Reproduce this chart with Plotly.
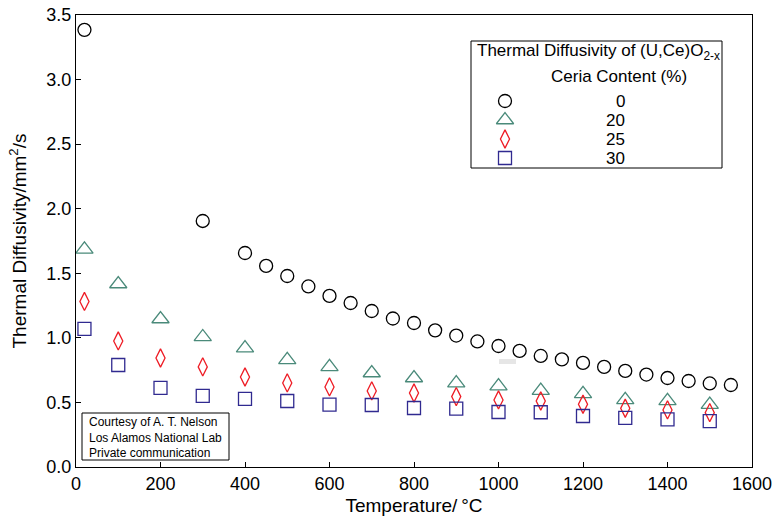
import plotly.graph_objects as go

# ---- data ----
temp_0 = [20, 300, 400, 450, 500, 550, 600, 650, 700, 750, 800, 850, 900, 950, 1000,
          1050, 1100, 1150, 1200, 1250, 1300, 1350, 1400, 1450, 1500, 1550]
diff_0 = [3.385, 1.905, 1.657, 1.557, 1.479, 1.398, 1.325, 1.27, 1.208, 1.15, 1.115,
          1.058, 1.018, 0.972, 0.937, 0.899, 0.86, 0.833, 0.806, 0.775, 0.744, 0.716,
          0.689, 0.666, 0.647, 0.635]
temp_x = [20, 100, 200, 300, 400, 500, 600, 700, 800, 900, 1000, 1100, 1200, 1300, 1400, 1500]
diff_20 = [1.685, 1.417, 1.146, 1.007, 0.92, 0.829, 0.775, 0.728, 0.689, 0.649, 0.627,
           0.591, 0.566, 0.52, 0.512, 0.483]
diff_25 = [1.282, 0.976, 0.844, 0.775, 0.697, 0.651, 0.62, 0.589, 0.573, 0.545, 0.519,
           0.511, 0.486, 0.455, 0.442, 0.421]
diff_30 = [1.069, 0.79, 0.612, 0.55, 0.527, 0.511, 0.483, 0.48, 0.457, 0.452, 0.426,
           0.424, 0.395, 0.38, 0.369, 0.356]
series_names = ["0", "20", "25", "30"]

FONT = "Liberation Sans, Arial, sans-serif"
W, H = 784, 520
L, R, T, B = 76, 32, 15, 53

styles = [
    dict(symbol="circle-open", size=13, color="#000000"),
    dict(symbol="triangle-up-open", size=15, color="#4a8a7a"),
    dict(symbol="diamond-tall-open", size=13, color="#ee1c25"),
    dict(symbol="square-open", size=13, color="#302a90"),
]
xs = [temp_0, temp_x, temp_x, temp_x]
ys = [diff_0, diff_20, diff_25, diff_30]

fig = go.Figure()
for x, y, st, nm in zip(xs, ys, styles, series_names):
    fig.add_trace(go.Scatter(
        x=x, y=y, mode="markers", name=nm, showlegend=False,
        marker=dict(symbol=st["symbol"], size=st["size"], color=st["color"],
                    line=dict(color=st["color"], width=1.3)),
    ))

# custom legend (pixel-coordinate overlay axes)
leg_y = [101, 120, 139, 158]
for st, nm, ly in zip(styles, series_names, leg_y):
    fig.add_trace(go.Scatter(
        x=[505], y=[ly], xaxis="x2", yaxis="y2", mode="markers", showlegend=False,
        hoverinfo="skip",
        marker=dict(symbol=st["symbol"], size=st["size"], color=st["color"],
                    line=dict(color=st["color"], width=1.3)),
    ))

annotations = []
for nm, ly in zip(series_names, leg_y):
    annotations.append(dict(x=627, y=ly, xref="x2", yref="y2", text=nm, showarrow=False,
                            xanchor="right", yanchor="middle",
                            font=dict(family=FONT, size=17, color="#000")))
annotations.append(dict(x=475, y=52, xref="x2", yref="y2",
                        text="Thermal Diffusivity of (U,Ce)O<sub>2-x</sub>", showarrow=False,
                        xanchor="left", yanchor="middle",
                        font=dict(family=FONT, size=17, color="#000")))
annotations.append(dict(x=619, y=76, xref="x2", yref="y2", text="Ceria Content (%)",
                        showarrow=False, xanchor="center", yanchor="middle",
                        font=dict(family=FONT, size=17, color="#000")))
annotations.append(dict(x=87, y=437, xref="x2", yref="y2",
                        text="Courtesy of A. T. Nelson<br>Los Alamos National Lab<br>Private communication",
                        showarrow=False, xanchor="left", yanchor="middle", align="left",
                        font=dict(family=FONT, size=12, color="#000")))

shapes = [
    dict(type="rect", xref="x2", yref="y2", x0=471, x1=722, y0=41, y1=168,
         line=dict(color="#000", width=1), fillcolor="rgba(0,0,0,0)"),
    dict(type="rect", xref="x2", yref="y2", x0=82, x1=229, y0=413, y1=460,
         line=dict(color="#000", width=1), fillcolor="rgba(0,0,0,0)"),
    dict(type="rect", xref="x2", yref="y2", x0=499, x1=516, y0=359, y1=364,
         line=dict(width=0), fillcolor="#e6e6e6", layer="below"),
]

fig.update_layout(
    width=W, height=H,
    margin=dict(l=L, r=R, t=T, b=B, pad=0),
    paper_bgcolor="white", plot_bgcolor="white",
    font=dict(family=FONT, size=18, color="#000"),
    showlegend=False,
    xaxis=dict(range=[0, 1600], tickvals=list(range(0, 1601, 200)), automargin=False,
               ticks="inside", ticklen=5, tickwidth=1, tickcolor="#000",
               showline=True, linecolor="#000", linewidth=1, mirror=True,
               showgrid=False, zeroline=False,
               tickfont=dict(family=FONT, size=18),
               title=dict(text="Temperature/\u2009°C", font=dict(family=FONT, size=19), standoff=6)),
    yaxis=dict(range=[0, 3.5], tickvals=[0, 0.5, 1, 1.5, 2, 2.5, 3, 3.5], tickformat=".1f",
               automargin=False,
               ticks="inside", ticklen=5, tickwidth=1, tickcolor="#000",
               showline=True, linecolor="#000", linewidth=1, mirror=True,
               showgrid=False, zeroline=False,
               tickfont=dict(family=FONT, size=18),
               title=dict(text="Thermal Diffusivity/mm<sup>2</sup>/s",
                          font=dict(family=FONT, size=19), standoff=14)),
    xaxis2=dict(overlaying="x", range=[L, W - R], visible=False, fixedrange=True),
    yaxis2=dict(overlaying="y", range=[H - B, T], visible=False, fixedrange=True),
    annotations=annotations,
    shapes=shapes,
)

fig.write_html("out.html")
